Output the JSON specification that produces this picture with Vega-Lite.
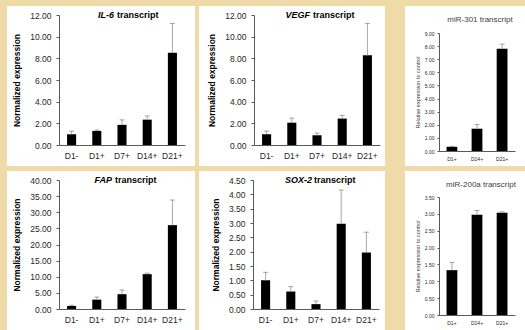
{
  "$schema": "https://vega.github.io/schema/vega-lite/v6.json",
  "background": "#EFDBA8",
  "padding": {"left": 7, "top": 6, "right": 0, "bottom": 0},
  "config": {
    "font": "Liberation Sans",
    "axis": {"domainColor": "#595959", "tickColor": "#595959", "labelColor": "#262626", "grid": false, "titleColor": "#000000", "labelOverlap": false, "labelBound": false},
    "style": {
      "bigY": {"format": ".2f", "tickSize": 3, "labelFontSize": 8.5, "labelPadding": 5, "titleFontSize": 8.5, "titleFontWeight": "bold", "titlePadding": 8},
      "smallY": {"format": ".2f", "tickSize": 2, "labelFontSize": 5, "labelPadding": 3, "titleFontSize": 5.5, "titleFontWeight": "normal", "titleColor": "#404040", "titlePadding": 4}
    },
    "concat": {"spacing": 0}
  },
  "datasets": {
    "d": [
      {"panel": "IL-6", "cat": "D1-", "value": 1.0, "upper": 1.28},
      {"panel": "IL-6", "cat": "D1+", "value": 1.3, "upper": 1.38},
      {"panel": "IL-6", "cat": "D7+", "value": 1.86, "upper": 2.32},
      {"panel": "IL-6", "cat": "D14+", "value": 2.34, "upper": 2.68},
      {"panel": "IL-6", "cat": "D21+", "value": 8.52, "upper": 11.22},
      {"panel": "VEGF", "cat": "D1-", "value": 1.0, "upper": 1.28},
      {"panel": "VEGF", "cat": "D1+", "value": 2.06, "upper": 2.48},
      {"panel": "VEGF", "cat": "D7+", "value": 0.9, "upper": 1.1},
      {"panel": "VEGF", "cat": "D14+", "value": 2.44, "upper": 2.74},
      {"panel": "VEGF", "cat": "D21+", "value": 8.28, "upper": 11.22},
      {"panel": "miR-301", "cat": "D1+", "value": 0.32, "upper": 0.36},
      {"panel": "miR-301", "cat": "D14+", "value": 1.7, "upper": 2.02},
      {"panel": "miR-301", "cat": "D21+", "value": 7.8, "upper": 8.15},
      {"panel": "FAP", "cat": "D1-", "value": 0.95, "upper": 1.15},
      {"panel": "FAP", "cat": "D1+", "value": 2.9, "upper": 3.7},
      {"panel": "FAP", "cat": "D7+", "value": 4.6, "upper": 5.9},
      {"panel": "FAP", "cat": "D14+", "value": 10.8, "upper": 11.1},
      {"panel": "FAP", "cat": "D21+", "value": 26.0, "upper": 33.8},
      {"panel": "SOX-2", "cat": "D1-", "value": 1.0, "upper": 1.28},
      {"panel": "SOX-2", "cat": "D1+", "value": 0.61, "upper": 0.78},
      {"panel": "SOX-2", "cat": "D7+", "value": 0.17, "upper": 0.28},
      {"panel": "SOX-2", "cat": "D14+", "value": 2.97, "upper": 4.15},
      {"panel": "SOX-2", "cat": "D21+", "value": 1.97, "upper": 2.68},
      {"panel": "miR-200a", "cat": "D1+", "value": 1.33, "upper": 1.56},
      {"panel": "miR-200a", "cat": "D14+", "value": 2.97, "upper": 3.1},
      {"panel": "miR-200a", "cat": "D21+", "value": 3.03, "upper": 3.06}
    ]
  },
  "vconcat": [
    {
      "hconcat": [
        {
          "hconcat": [
            {
              "width": 188, "height": 160,
              "view": {"fill": "white", "stroke": null},
              "data": {"name": "d"},
              "transform": [{"filter": "datum.panel == 'IL-6'"}],
              "encoding": {
                "x": {"field": "cat", "type": "nominal", "scale": {"domain": ["D1-", "D1+", "D7+", "D14+", "D21+"], "range": [52, 178], "paddingInner": 0.64, "paddingOuter": 0.32},
                  "axis": {"title": null, "offset": -21, "ticks": false, "labelAngle": 0, "labelFontSize": 8.5, "labelPadding": 6}}
              },
              "layer": [
                {"mark": {"type": "bar", "color": "black"},
                  "encoding": {"y": {"field": "value", "type": "quantitative", "scale": {"domain": [0, 12], "range": [139, 9]},
                    "axis": {"style": "bigY", "title": "Normalized expression", "offset": -52, "values": [0, 2, 4, 6, 8, 10, 12]}}}},
                {"mark": {"type": "rule", "color": "#A6A6A6"}, "encoding": {"y": {"field": "value", "type": "quantitative", "axis": {"style": "bigY", "title": "Normalized expression", "offset": -52, "values": [0, 2, 4, 6, 8, 10, 12]}}, "y2": {"field": "upper"}}},
                {"mark": {"type": "tick", "orient": "horizontal", "size": 5, "thickness": 1, "color": "#7F7F7F"}, "encoding": {"y": {"field": "upper", "type": "quantitative", "axis": {"style": "bigY", "title": "Normalized expression", "offset": -52, "values": [0, 2, 4, 6, 8, 10, 12]}}}},
                {"data": {"values": [{}]}, "mark": {"type": "text", "fontStyle": "italic", "fontWeight": "bold", "fontSize": 9, "align": "right", "baseline": "middle", "dx": -8},
                  "encoding": {"x": {"datum": "D7+"}, "y": {"datum": 12, "axis": {"style": "bigY", "title": "Normalized expression", "offset": -52, "values": [0, 2, 4, 6, 8, 10, 12]}}, "text": {"value": "IL-6"}}},
                {"data": {"values": [{}]}, "mark": {"type": "text", "fontWeight": "bold", "fontSize": 9, "align": "left", "baseline": "middle", "dx": -5},
                  "encoding": {"x": {"datum": "D7+"}, "y": {"datum": 12, "axis": {"style": "bigY", "title": "Normalized expression", "offset": -52, "values": [0, 2, 4, 6, 8, 10, 12]}}, "text": {"value": "transcript"}}}
              ]
            },
            {
              "width": 186, "height": 160,
              "view": {"fill": "white", "stroke": null},
              "data": {"name": "d"},
              "transform": [{"filter": "datum.panel == 'VEGF'"}],
              "encoding": {
                "x": {"field": "cat", "type": "nominal", "scale": {"domain": ["D1-", "D1+", "D7+", "D14+", "D21+"], "range": [55, 181], "paddingInner": 0.64, "paddingOuter": 0.32},
                  "axis": {"title": null, "offset": -21, "ticks": false, "labelAngle": 0, "labelFontSize": 8.5, "labelPadding": 6}}
              },
              "layer": [
                {"mark": {"type": "bar", "color": "black"},
                  "encoding": {"y": {"field": "value", "type": "quantitative", "scale": {"domain": [0, 12], "range": [139, 9]},
                    "axis": {"style": "bigY", "title": "Normalized expression", "offset": -55, "values": [0, 2, 4, 6, 8, 10, 12]}}}},
                {"mark": {"type": "rule", "color": "#A6A6A6"}, "encoding": {"y": {"field": "value", "type": "quantitative", "axis": {"style": "bigY", "title": "Normalized expression", "offset": -55, "values": [0, 2, 4, 6, 8, 10, 12]}}, "y2": {"field": "upper"}}},
                {"mark": {"type": "tick", "orient": "horizontal", "size": 5, "thickness": 1, "color": "#7F7F7F"}, "encoding": {"y": {"field": "upper", "type": "quantitative", "axis": {"style": "bigY", "title": "Normalized expression", "offset": -55, "values": [0, 2, 4, 6, 8, 10, 12]}}}},
                {"data": {"values": [{}]}, "mark": {"type": "text", "fontStyle": "italic", "fontWeight": "bold", "fontSize": 9, "align": "right", "baseline": "middle", "dx": -7},
                  "encoding": {"x": {"datum": "D7+"}, "y": {"datum": 12, "axis": {"style": "bigY", "title": "Normalized expression", "offset": -55, "values": [0, 2, 4, 6, 8, 10, 12]}}, "text": {"value": "VEGF"}}},
                {"data": {"values": [{}]}, "mark": {"type": "text", "fontWeight": "bold", "fontSize": 9, "align": "left", "baseline": "middle", "dx": -4},
                  "encoding": {"x": {"datum": "D7+"}, "y": {"datum": 12, "axis": {"style": "bigY", "title": "Normalized expression", "offset": -55, "values": [0, 2, 4, 6, 8, 10, 12]}}, "text": {"value": "transcript"}}}
              ]
            }
          ],
          "spacing": 4
        },
        {
          "width": 120, "height": 160,
          "view": {"fill": "white", "stroke": null},
          "data": {"name": "d"},
          "transform": [{"filter": "datum.panel == 'miR-301'"}],
          "encoding": {
            "x": {"field": "cat", "type": "nominal", "scale": {"domain": ["D1+", "D14+", "D21+"], "range": [34, 110], "paddingInner": 0.57, "paddingOuter": 0.3},
              "axis": {"title": null, "offset": -15, "ticks": false, "labelAngle": 0, "labelFontSize": 5, "labelPadding": 5}}
          },
          "layer": [
            {"mark": {"type": "bar", "color": "black"},
              "encoding": {"y": {"field": "value", "type": "quantitative", "scale": {"domain": [0, 9], "range": [145, 27]},
                "axis": {"style": "smallY", "title": "Relative expression to control", "offset": -34, "values": [0, 1, 2, 3, 4, 5, 6, 7, 8, 9]}}}},
            {"mark": {"type": "rule", "color": "#A6A6A6"}, "encoding": {"y": {"field": "value", "type": "quantitative", "axis": {"style": "smallY", "title": "Relative expression to control", "offset": -34, "values": [0, 1, 2, 3, 4, 5, 6, 7, 8, 9]}}, "y2": {"field": "upper"}}},
            {"mark": {"type": "tick", "orient": "horizontal", "size": 5, "thickness": 1, "color": "#7F7F7F"}, "encoding": {"y": {"field": "upper", "type": "quantitative", "axis": {"style": "smallY", "title": "Relative expression to control", "offset": -34, "values": [0, 1, 2, 3, 4, 5, 6, 7, 8, 9]}}}},
            {"data": {"values": [{}]}, "mark": {"type": "text", "fontSize": 8, "color": "#404040", "align": "center", "baseline": "middle", "dx": 3, "dy": -13},
              "encoding": {"x": {"datum": "D14+"}, "y": {"datum": 9, "axis": {"style": "smallY", "title": "Relative expression to control", "offset": -34, "values": [0, 1, 2, 3, 4, 5, 6, 7, 8, 9]}}, "text": {"value": "miR-301 transcript"}}}
          ]
        }
      ],
      "spacing": 20
    },
    {
      "hconcat": [
        {
          "hconcat": [
            {
              "width": 188, "height": 159,
              "view": {"fill": "white", "stroke": null},
              "data": {"name": "d"},
              "transform": [{"filter": "datum.panel == 'FAP'"}],
              "encoding": {
                "x": {"field": "cat", "type": "nominal", "scale": {"domain": ["D1-", "D1+", "D7+", "D14+", "D21+"], "range": [52, 178], "paddingInner": 0.64, "paddingOuter": 0.32},
                  "axis": {"title": null, "offset": -21, "ticks": false, "labelAngle": 0, "labelFontSize": 8.5, "labelPadding": 6}}
              },
              "layer": [
                {"mark": {"type": "bar", "color": "black"},
                  "encoding": {"y": {"field": "value", "type": "quantitative", "scale": {"domain": [0, 40], "range": [138, 9]},
                    "axis": {"style": "bigY", "title": "Normalized expression", "offset": -52, "values": [0, 5, 10, 15, 20, 25, 30, 35, 40]}}}},
                {"mark": {"type": "rule", "color": "#A6A6A6"}, "encoding": {"y": {"field": "value", "type": "quantitative", "axis": {"style": "bigY", "title": "Normalized expression", "offset": -52, "values": [0, 5, 10, 15, 20, 25, 30, 35, 40]}}, "y2": {"field": "upper"}}},
                {"mark": {"type": "tick", "orient": "horizontal", "size": 5, "thickness": 1, "color": "#7F7F7F"}, "encoding": {"y": {"field": "upper", "type": "quantitative", "axis": {"style": "bigY", "title": "Normalized expression", "offset": -52, "values": [0, 5, 10, 15, 20, 25, 30, 35, 40]}}}},
                {"data": {"values": [{}]}, "mark": {"type": "text", "fontStyle": "italic", "fontWeight": "bold", "fontSize": 9, "align": "right", "baseline": "middle", "dx": -10},
                  "encoding": {"x": {"datum": "D7+"}, "y": {"datum": 40, "axis": {"style": "bigY", "title": "Normalized expression", "offset": -52, "values": [0, 5, 10, 15, 20, 25, 30, 35, 40]}}, "text": {"value": "FAP"}}},
                {"data": {"values": [{}]}, "mark": {"type": "text", "fontWeight": "bold", "fontSize": 9, "align": "left", "baseline": "middle", "dx": -7},
                  "encoding": {"x": {"datum": "D7+"}, "y": {"datum": 40, "axis": {"style": "bigY", "title": "Normalized expression", "offset": -52, "values": [0, 5, 10, 15, 20, 25, 30, 35, 40]}}, "text": {"value": "transcript"}}}
              ]
            },
            {
              "width": 186, "height": 159,
              "view": {"fill": "white", "stroke": null},
              "data": {"name": "d"},
              "transform": [{"filter": "datum.panel == 'SOX-2'"}],
              "encoding": {
                "x": {"field": "cat", "type": "nominal", "scale": {"domain": ["D1-", "D1+", "D7+", "D14+", "D21+"], "range": [54, 180], "paddingInner": 0.64, "paddingOuter": 0.32},
                  "axis": {"title": null, "offset": -21, "ticks": false, "labelAngle": 0, "labelFontSize": 8.5, "labelPadding": 6}}
              },
              "layer": [
                {"mark": {"type": "bar", "color": "black"},
                  "encoding": {"y": {"field": "value", "type": "quantitative", "scale": {"domain": [0, 4.5], "range": [138, 9]},
                    "axis": {"style": "bigY", "title": "Normalized expression", "offset": -54, "values": [0, 0.5, 1, 1.5, 2, 2.5, 3, 3.5, 4, 4.5]}}}},
                {"mark": {"type": "rule", "color": "#A6A6A6"}, "encoding": {"y": {"field": "value", "type": "quantitative", "axis": {"style": "bigY", "title": "Normalized expression", "offset": -54, "values": [0, 0.5, 1, 1.5, 2, 2.5, 3, 3.5, 4, 4.5]}}, "y2": {"field": "upper"}}},
                {"mark": {"type": "tick", "orient": "horizontal", "size": 5, "thickness": 1, "color": "#7F7F7F"}, "encoding": {"y": {"field": "upper", "type": "quantitative", "axis": {"style": "bigY", "title": "Normalized expression", "offset": -54, "values": [0, 0.5, 1, 1.5, 2, 2.5, 3, 3.5, 4, 4.5]}}}},
                {"data": {"values": [{}]}, "mark": {"type": "text", "fontStyle": "italic", "fontWeight": "bold", "fontSize": 9, "align": "right", "baseline": "middle", "dx": -4},
                  "encoding": {"x": {"datum": "D7+"}, "y": {"datum": 4.5, "axis": {"style": "bigY", "title": "Normalized expression", "offset": -54, "values": [0, 0.5, 1, 1.5, 2, 2.5, 3, 3.5, 4, 4.5]}}, "text": {"value": "SOX-2"}}},
                {"data": {"values": [{}]}, "mark": {"type": "text", "fontWeight": "bold", "fontSize": 9, "align": "left", "baseline": "middle", "dx": -2},
                  "encoding": {"x": {"datum": "D7+"}, "y": {"datum": 4.5, "axis": {"style": "bigY", "title": "Normalized expression", "offset": -54, "values": [0, 0.5, 1, 1.5, 2, 2.5, 3, 3.5, 4, 4.5]}}, "text": {"value": "transcript"}}}
              ]
            }
          ],
          "spacing": 4
        },
        {
          "width": 120, "height": 159,
          "view": {"fill": "white", "stroke": null},
          "data": {"name": "d"},
          "transform": [{"filter": "datum.panel == 'miR-200a'"}],
          "encoding": {
            "x": {"field": "cat", "type": "nominal", "scale": {"domain": ["D1+", "D14+", "D21+"], "range": [34, 110], "paddingInner": 0.57, "paddingOuter": 0.3},
              "axis": {"title": null, "offset": -15, "ticks": false, "labelAngle": 0, "labelFontSize": 5, "labelPadding": 5}}
          },
          "layer": [
            {"mark": {"type": "bar", "color": "black"},
              "encoding": {"y": {"field": "value", "type": "quantitative", "scale": {"domain": [0, 3.5], "range": [144, 26]},
                "axis": {"style": "smallY", "title": "Relative expression to control", "offset": -34, "values": [0, 0.5, 1, 1.5, 2, 2.5, 3, 3.5]}}}},
            {"mark": {"type": "rule", "color": "#A6A6A6"}, "encoding": {"y": {"field": "value", "type": "quantitative", "axis": {"style": "smallY", "title": "Relative expression to control", "offset": -34, "values": [0, 0.5, 1, 1.5, 2, 2.5, 3, 3.5]}}, "y2": {"field": "upper"}}},
            {"mark": {"type": "tick", "orient": "horizontal", "size": 5, "thickness": 1, "color": "#7F7F7F"}, "encoding": {"y": {"field": "upper", "type": "quantitative", "axis": {"style": "smallY", "title": "Relative expression to control", "offset": -34, "values": [0, 0.5, 1, 1.5, 2, 2.5, 3, 3.5]}}}},
            {"data": {"values": [{}]}, "mark": {"type": "text", "fontSize": 8, "color": "#404040", "align": "center", "baseline": "middle", "dx": 4, "dy": -12},
              "encoding": {"x": {"datum": "D14+"}, "y": {"datum": 3.5, "axis": {"style": "smallY", "title": "Relative expression to control", "offset": -34, "values": [0, 0.5, 1, 1.5, 2, 2.5, 3, 3.5]}}, "text": {"value": "miR-200a transcript"}}}
          ]
        }
      ],
      "spacing": 20
    }
  ],
  "spacing": 5
}
